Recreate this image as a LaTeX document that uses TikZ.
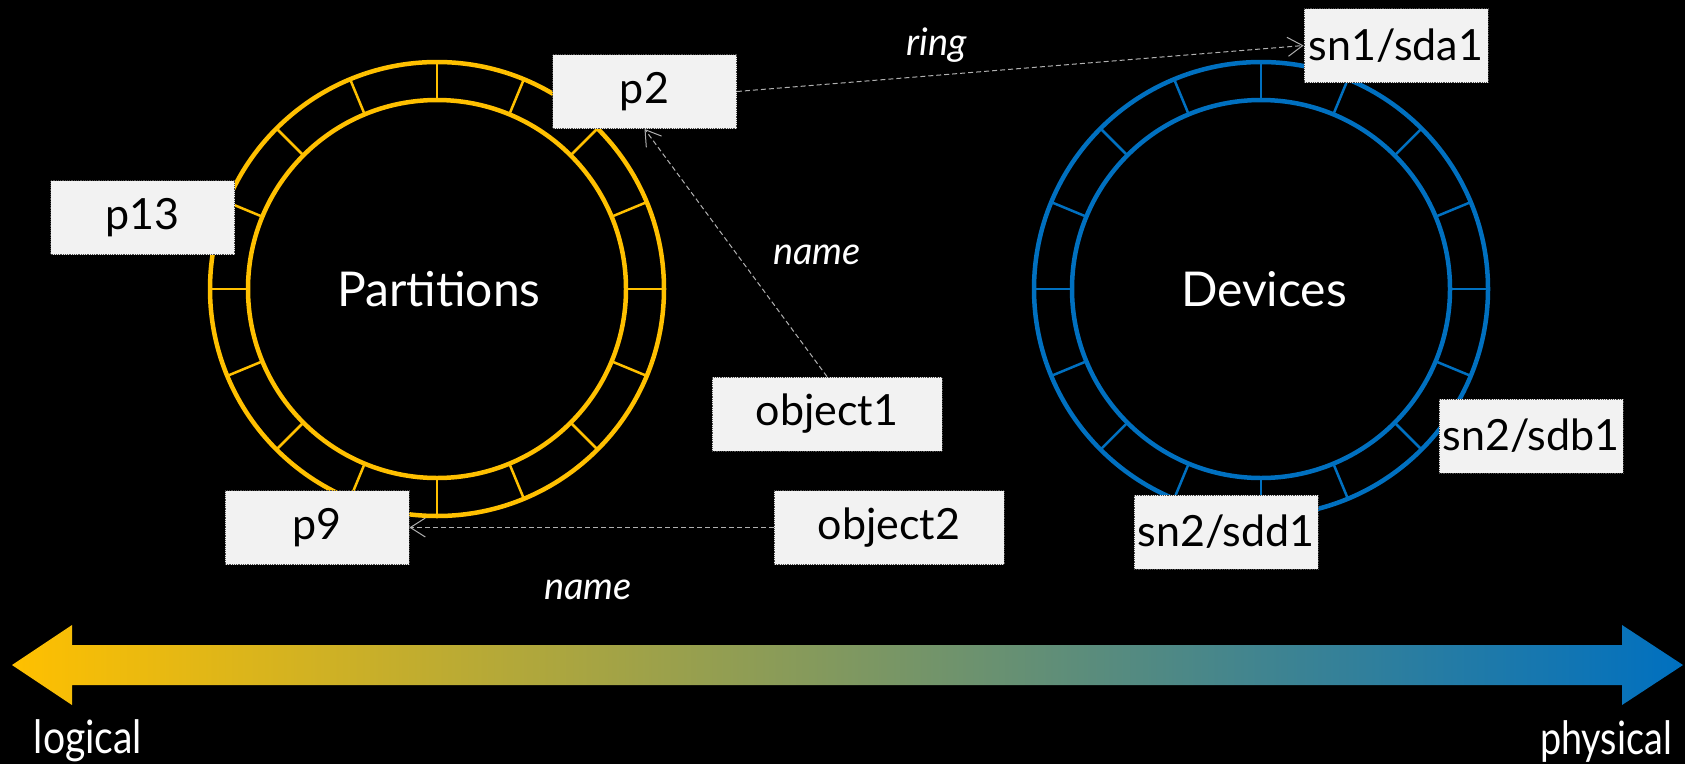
\documentclass[tikz,border=0pt]{standalone}
\usepackage{fontspec}
\usepackage{graphicx}
\setmainfont{Lato}
\usetikzlibrary{arrows.meta,calc}
\definecolor{gold}{HTML}{FFC000}
\definecolor{devblue}{HTML}{0070C0}
\definecolor{boxgray}{HTML}{F2F2F2}
\definecolor{linkgray}{HTML}{B0B0B0}
\tikzset{
  box/.style={rectangle, fill=boxgray, draw=gray!60!black, densely dotted, line width=0.8pt,
    inner sep=0pt, text=black, font=\fontsize{43}{50}\selectfont},
  pbox/.style={box, minimum width=184pt, minimum height=74pt},
  obox/.style={box, minimum width=230pt, minimum height=74pt},
  dbox/.style={box, minimum width=184pt, minimum height=74pt},
  ringline/.style={line width=4.5pt},
  tickline/.style={line width=2.5pt},
  link/.style={draw=linkgray, line width=1pt, dash pattern=on 5pt off 3pt,
    -{Straight Barb[length=15pt,width=19pt,line width=1pt]}},
  lbl/.style={text=white, font=\fontsize{38}{44}\selectfont\itshape},
  ringtitle/.style={text=white, font=\fontsize{48}{54}\selectfont},
  axislbl/.style={text=white, font=\fontsize{46}{52}\selectfont}
}
\begin{document}
\begin{tikzpicture}[x=1pt,y=-1pt]
\fill[black] (0,0) rectangle (1685,764);
\useasboundingbox (0,0) rectangle (1685,764);

% Partitions ring
\coordinate (pc) at (437,289);
\draw[gold, ringline] (pc) circle[radius=227];
\draw[gold, ringline] (pc) circle[radius=189];
\foreach \a in {0,22.5,...,337.5}
  \draw[gold, tickline] ($(pc)+(\a:189)$) -- ($(pc)+(\a:227)$);
\node[ringtitle] (partitions) at (439,289) {Partitions};

% Devices ring
\coordinate (dc) at (1261,289);
\draw[devblue, ringline] (dc) circle[radius=227];
\draw[devblue, ringline] (dc) circle[radius=189];
\foreach \a in {0,22.5,...,337.5}
  \draw[devblue, tickline] ($(dc)+(\a:189)$) -- ($(dc)+(\a:227)$);
\node[ringtitle] (devices) at (1264,289) {Devices};

% boxes
\node[pbox] (p2) at (644.5,91.5) {p2};
\node[pbox] (p13) at (142.5,217.5) {p13};
\node[pbox] (p9) at (317,527.5) {p9};
\node[obox] (obj1) at (827,414) {object1};
\node[obox] (obj2) at (889,527.5) {object2};
\node[dbox] (sda1) at (1396,45.5) {sn1/sda1};
\node[dbox] (sdb1) at (1531,436) {sn2/sdb1};
\node[dbox] (sdd1) at (1226,532) {sn2/sdd1};

% connectors
\draw[link] (p2.east) -- (sda1.west);
\draw[link] (obj1.north) -- (p2.south);
\draw[link] (obj2.west) -- (p9.east);

% labels
\node[lbl] (ringlbl) at (937,45) {ring};
\node[lbl] (name1) at (817,255) {name};
\node[lbl] (name2) at (588,590) {name};

% gradient axis
\shade[left color=gold, right color=devblue]
  (12,665) -- (72,625) -- (72,645) -- (1622,645) -- (1622,625) -- (1683,665)
  -- (1622,705) -- (1622,685) -- (72,685) -- (72,705) -- cycle;
\node[axislbl] (logical) at (88,741) {\scalebox{0.85}[1]{logical}};
\node[axislbl] (physical) at (1606,741) {\scalebox{0.82}[1]{physical}};
\end{tikzpicture}
\end{document}
